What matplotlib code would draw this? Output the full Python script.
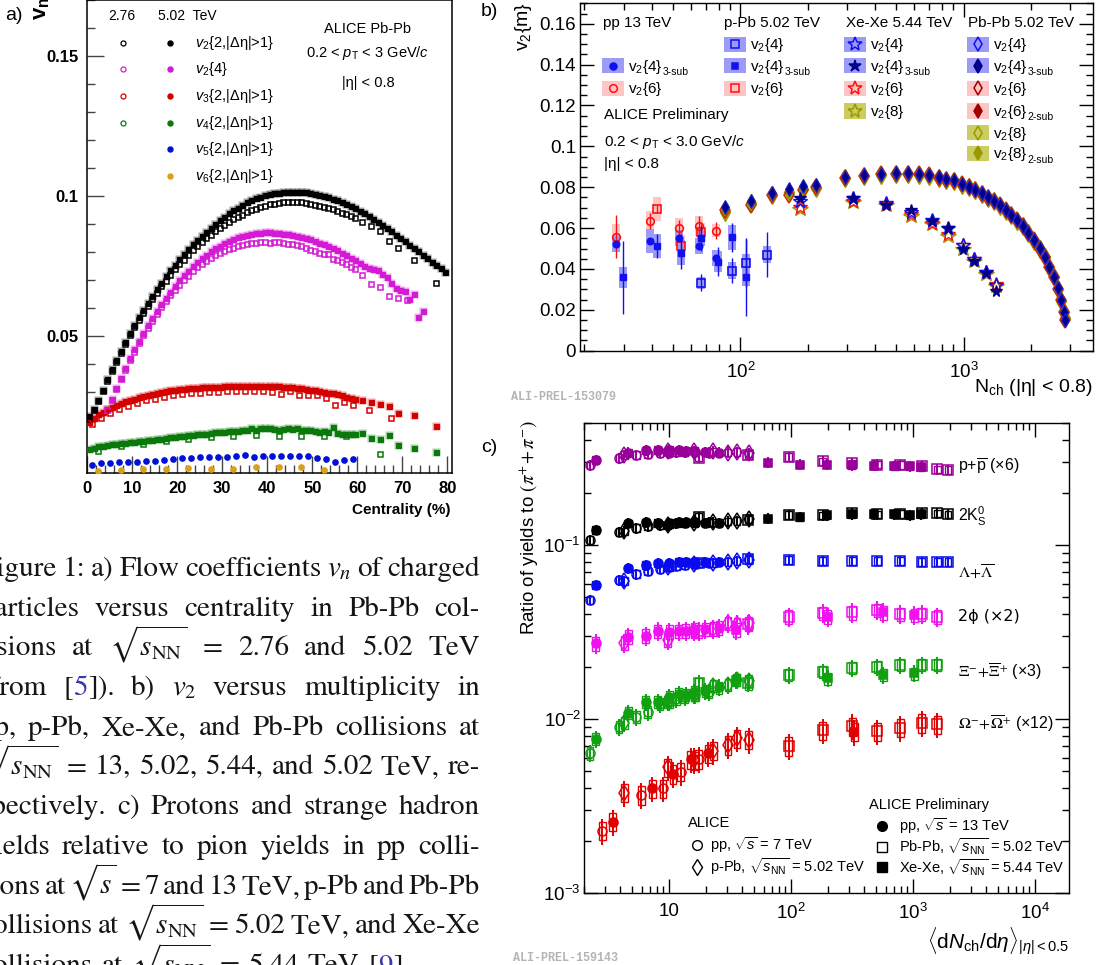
import numpy as np
import matplotlib
matplotlib.use("Agg")
import matplotlib.pyplot as plt
from matplotlib.patches import Rectangle
from matplotlib.lines import Line2D
from matplotlib.transforms import IdentityTransform
import matplotlib.ticker as mticker

plt.rcParams['font.family'] = ['Liberation Sans', 'DejaVu Sans']
plt.rcParams['mathtext.fontset'] = 'custom'
plt.rcParams['mathtext.rm'] = 'Liberation Sans'
plt.rcParams['mathtext.it'] = 'Liberation Sans:italic'
plt.rcParams['mathtext.bf'] = 'Liberation Sans:bold'
plt.rcParams['mathtext.sf'] = 'Liberation Sans'
plt.rcParams['axes.linewidth'] = 1.0

# ------------------------------------------------------------------ data a)
cent_502 = np.arange(0.5, 80, 1.0)
v22_502 = [0.0213, 0.0239, 0.0271, 0.0308, 0.0346, 0.0382, 0.0414, 0.0448, 0.0480, 0.0511,
           0.0540, 0.0568, 0.0593, 0.0618, 0.0644, 0.0668, 0.0690, 0.0713, 0.0735, 0.0755,
           0.0775, 0.0792, 0.0810, 0.0827, 0.0843, 0.0858, 0.0873, 0.0887, 0.0901, 0.0914,
           0.0926, 0.0938, 0.0949, 0.0959, 0.0968, 0.0977, 0.0985, 0.0992, 0.0998, 0.1003,
           0.1007, 0.1010, 0.1012, 0.1014, 0.1015, 0.1016, 0.1015, 0.1014, 0.1013, 0.1011,
           0.1008, 0.1004, 0.1000, 0.0995, 0.0990, 0.0985, 0.0979, 0.0972, 0.0965, 0.0957,
           0.0948, 0.0939, 0.0929, 0.0919, 0.0908, 0.0897, 0.0886, 0.0874, 0.0862, 0.0850,
           0.0838, 0.0826, 0.0814, 0.0802, 0.0790, 0.0778, 0.0766, 0.0754, 0.0742, 0.0730]
cent_276_v22 = list(np.arange(0.5, 60, 1.0)) + [61, 63, 65, 67, 69, 72.5, 77.5]
v22_276 = [0.0205, 0.0235, 0.0268, 0.0303, 0.0340, 0.0375, 0.0408, 0.0440, 0.0472, 0.0502,
           0.0531, 0.0558, 0.0584, 0.0608, 0.0632, 0.0655, 0.0677, 0.0698, 0.0718, 0.0738,
           0.0756, 0.0773, 0.0790, 0.0806, 0.0821, 0.0835, 0.0849, 0.0862, 0.0874, 0.0886,
           0.0897, 0.0907, 0.0917, 0.0926, 0.0934, 0.0942, 0.0949, 0.0955, 0.0961, 0.0966,
           0.0970, 0.0973, 0.0976, 0.0977, 0.0978, 0.0979, 0.0978, 0.0977, 0.0975, 0.0972,
           0.0969, 0.0966, 0.0962, 0.0958, 0.0953, 0.0947, 0.0941, 0.0935, 0.0928, 0.0920,
           0.0906, 0.0894, 0.0874, 0.0838, 0.0813, 0.0771, 0.0688]
cent_502_v24 = np.arange(4.5, 75, 1.0)
v24_502 = [0.0239, 0.0274, 0.0316, 0.0352, 0.0386, 0.0420, 0.0452, 0.0482, 0.0511, 0.0538,
           0.0565, 0.0590, 0.0614, 0.0637, 0.0659, 0.0679, 0.0699, 0.0717, 0.0734, 0.0750,
           0.0765, 0.0778, 0.0791, 0.0802, 0.0813, 0.0822, 0.0831, 0.0839, 0.0846, 0.0852,
           0.0857, 0.0861, 0.0864, 0.0867, 0.0869, 0.0870, 0.0870, 0.0869, 0.0868, 0.0866,
           0.0864, 0.0861, 0.0858, 0.0854, 0.0850, 0.0845, 0.0840, 0.0834, 0.0828, 0.0821,
           0.0814, 0.0806, 0.0798, 0.0789, 0.0780, 0.0770, 0.0760, 0.0750, 0.0742, 0.0740,
           0.0735, 0.0722, 0.0712, 0.0690, 0.0670, 0.0665, 0.0660, 0.0632, 0.0650, 0.0567,
           0.0590]
cent_276_v24 = list(np.arange(4.5, 60, 1.0)) + [61, 63, 65, 67, 69, 71]
v24_276 = [0.0235, 0.0270, 0.0310, 0.0346, 0.0380, 0.0413, 0.0444, 0.0474, 0.0502, 0.0529,
           0.0555, 0.0579, 0.0602, 0.0624, 0.0645, 0.0665, 0.0683, 0.0700, 0.0716, 0.0731,
           0.0745, 0.0757, 0.0768, 0.0779, 0.0788, 0.0796, 0.0804, 0.0810, 0.0816, 0.0821,
           0.0825, 0.0829, 0.0832, 0.0834, 0.0836, 0.0836, 0.0833, 0.0836, 0.0837, 0.0832,
           0.0827, 0.0829, 0.0825, 0.0822, 0.0813, 0.0809, 0.0805, 0.0796, 0.0794, 0.0793,
           0.0775, 0.0773, 0.0766, 0.0757, 0.0748, 0.0739,
           0.0719, 0.0686, 0.0674, 0.0644, 0.0636, 0.0630]
cent_502_v34 = list(np.arange(0.5, 60, 1.0)) + [61, 63, 65, 67, 69, 72.5, 77.5]
v3_502 = [0.0192, 0.0208, 0.0220, 0.0230, 0.0239, 0.0246, 0.0254, 0.0261, 0.0267, 0.0273,
          0.0277, 0.0282, 0.0287, 0.0290, 0.0294, 0.0298, 0.0301, 0.0304, 0.0306, 0.0308,
          0.0311, 0.0312, 0.0313, 0.0314, 0.0315, 0.0317, 0.0317, 0.0318, 0.0319, 0.0319,
          0.0320, 0.0320, 0.0321, 0.0321, 0.0322, 0.0322, 0.0322, 0.0322, 0.0322, 0.0321,
          0.0321, 0.0320, 0.0320, 0.0319, 0.0318, 0.0317, 0.0315, 0.0313, 0.0311, 0.0309,
          0.0307, 0.0304, 0.0301, 0.0298, 0.0295, 0.0292, 0.0288, 0.0284, 0.0280, 0.0276,
          0.0272, 0.0266, 0.0258, 0.0250, 0.0226, 0.0217, 0.0180]
cent_276_v3 = list(np.arange(1, 60, 2.0)) + [62.5, 67.5]
v3_276 = [0.0186, 0.0207, 0.0226, 0.0240, 0.0252, 0.0262, 0.0270, 0.0277, 0.0283, 0.0288,
          0.0292, 0.0295, 0.0298, 0.0300, 0.0302, 0.0303, 0.0303, 0.0304, 0.0304, 0.0303,
          0.0299, 0.0293, 0.0305, 0.0289, 0.0289, 0.0289, 0.0280, 0.0254, 0.0265, 0.0254,
          0.0237, 0.0206]
v4_502 = [0.0096, 0.0101, 0.0106, 0.0108, 0.0111, 0.0113, 0.0115, 0.0117, 0.0119, 0.0121,
          0.0123, 0.0125, 0.0126, 0.0129, 0.0130, 0.0132, 0.0133, 0.0136, 0.0138, 0.0140,
          0.0142, 0.0144, 0.0146, 0.0146, 0.0149, 0.0151, 0.0151, 0.0154, 0.0156, 0.0156,
          0.0158, 0.0160, 0.0161, 0.0161, 0.0164, 0.0165, 0.0170, 0.0165, 0.0170, 0.0173,
          0.0170, 0.0168, 0.0166, 0.0167, 0.0170, 0.0169, 0.0170, 0.0166, 0.0165, 0.0163,
          0.0162, 0.0158, 0.0160, 0.0157, 0.0174, 0.0154, 0.0152, 0.0150, 0.0150, 0.0151,
          0.0155, 0.0136, 0.0132, 0.0148, 0.0112, 0.0099, 0.0087]
cent_276_v4 = list(np.arange(2.5, 60, 5.0)) + [65]
v4_276 = [0.0090, 0.0108, 0.0114, 0.0126, 0.0132, 0.0138, 0.0144, 0.0146, 0.0144, 0.0142,
          0.0142, 0.0144, 0.0079]
cent_502_v5 = np.arange(1, 60, 2.0)
v5_502 = [0.0039, 0.0045, 0.0048, 0.0050, 0.0051, 0.0049, 0.0054, 0.0055, 0.0057, 0.0061,
          0.0063, 0.0065, 0.0068, 0.0069, 0.0069, 0.0068, 0.0071, 0.0075, 0.0067, 0.0073,
          0.0071, 0.0070, 0.0070, 0.0070, 0.0070, 0.0063, 0.0061, 0.0052, 0.0059, 0.0061]
cent_502_v6 = np.arange(2.5, 55, 5.0)
v6_502 = [0.0019, 0.0020, 0.0025, 0.0025, 0.0028, 0.0025, 0.0025, 0.0033, 0.0034, 0.0033, 0.0020]

# ------------------------------------------------------------------ data b)
N_pp = [27.8, 39.4, 53.3, 64.9, 77.4]
pp_v24_3sub = [0.0523, 0.0537, 0.0550, 0.0511, 0.0453]
pp_v24_3sub_sys = [0.004, 0.006, 0.004, 0.004, 0.004]
pp_v26 = [0.0558, 0.0635, 0.0598, 0.0611, 0.0588]
pp_v26_err = [0.0105, 0.004, 0.004, 0.005, 0.004]
pp_v26_sys = [0.006, 0.005, 0.005, 0.005, 0.003]

N_ppb_v24 = [66.7, 91.3, 106.2, 131.8]
ppb_v24 = [0.0333, 0.0392, 0.0431, 0.0470]
ppb_v24_err = [0.004, 0.006, 0.012, 0.011]
ppb_v24_sys = [0.003, 0.004, 0.004, 0.004]
N_ppb_3sub = [29.9, 42.1, 54.3, 66.7, 79.6, 91.3, 106.2]
ppb_v24_3sub = [0.0359, 0.0513, 0.0480, 0.0550, 0.0436, 0.0555, 0.0359]
ppb_v24_3sub_err = [0.018, 0.006, 0.008, 0.006, 0.007, 0.007, 0.019]
ppb_v24_3sub_sys = [0.005, 0.006, 0.006, 0.004, 0.005, 0.006, 0.004]
N_ppb_v26 = [42.1, 54.3, 66.7]
ppb_v26 = [0.0694, 0.0514, 0.0583]
ppb_v26_err = [0.002, 0.006, 0.004]
ppb_v26_sys = [0.006, 0.005, 0.004]

N_xe = [184, 320, 451, 583, 724, 854, 992, 1117, 1256, 1397]
xe_v24 = [0.0735, 0.0745, 0.0722, 0.0680, 0.0638, 0.0598, 0.0515, 0.0450, 0.0385, 0.0320]
xe_v24_3sub = [0.0745, 0.0748, 0.0715, 0.0690, 0.0635, 0.0598, 0.0500, 0.0440, 0.0378, 0.0290]
xe_v26 = [0.0705, 0.0735, 0.0718, 0.0667, 0.0625, 0.0570, 0.0515, 0.0450, 0.0385, 0.0325]
xe_v28 = [0.0695, 0.0728, 0.0712, 0.0660, 0.0618, 0.0562, 0.0500, 0.0438, 0.0375, 0.0315]

N_pb = [85.4, 111.7, 138, 165, 191, 218, 293, 359, 426, 498, 565, 631, 702, 774, 838, 906,
        981, 1052, 1125, 1203, 1291, 1369, 1452, 1541, 1634, 1734, 1840, 1951, 2070, 2196,
        2313, 2423, 2540, 2644, 2727, 2816, 2847]
pb_v24 = [0.0702, 0.0735, 0.0771, 0.0792, 0.0807, 0.0811, 0.0849, 0.0859, 0.0865, 0.0869,
          0.0869, 0.0865, 0.0860, 0.0849, 0.0839, 0.0833, 0.0816, 0.0803, 0.0787, 0.0771,
          0.0751, 0.0735, 0.0713, 0.0689, 0.0665, 0.0640, 0.0611, 0.0578, 0.0542, 0.0501,
          0.0460, 0.0411, 0.0362, 0.0306, 0.0248, 0.0191, 0.0150]
pb_v26 = [0.0688, 0.0712, 0.0760, 0.0762, 0.0786, 0.0800, 0.0845, 0.0857, 0.0863, 0.0867,
          0.0867, 0.0863, 0.0858, 0.0847, 0.0837, 0.0831, 0.0814, 0.0801, 0.0785, 0.0769,
          0.0749, 0.0733, 0.0711, 0.0687, 0.0663, 0.0638, 0.0609, 0.0576, 0.0540, 0.0499,
          0.0458, 0.0409, 0.0360, 0.0304, 0.0246, 0.0189, 0.0148]
pb_v28 = [0.0680, 0.0722, 0.0762, 0.0775, 0.0790, 0.0798, 0.0843, 0.0856, 0.0862, 0.0866,
          0.0866, 0.0862, 0.0857, 0.0846, 0.0836, 0.0830, 0.0813, 0.0800, 0.0784, 0.0768,
          0.0748, 0.0732, 0.0710, 0.0686, 0.0662, 0.0637, 0.0608, 0.0575, 0.0539, 0.0498,
          0.0457, 0.0408, 0.0359, 0.0303, 0.0245, 0.0188, 0.0160]

# ------------------------------------------------------------------ data c)
x_pp7 = [2.26, 3.90, 5.40, 6.72, 8.45, 10.1, 11.5, 13.5, 16.5, 21.3]
x_pp13 = [2.52, 4.64, 6.48, 8.07, 10.11, 12.06, 13.76, 16.12, 19.83, 25.75]
x_ppb = [4.3, 9.8, 16.1, 23.2, 30.5, 36.2, 45.1]
x_pbpb = [17.5, 44.9, 96.3, 183, 318, 512, 786, 1180, 1587, 1943]
x_pbpb_9 = [17.5, 44.9, 96.3, 183, 318, 512, 786, 1180, 1587]
x_pbpb_om = [96.3, 183, 318, 512, 786, 1180, 1587]
x_xexe_pk = [64.7, 118, 198, 315, 478, 706, 939, 1167]
x_xexe_4 = [35.6, 200, 573, 1024]
x_xexe_om = [330]
x_pp7_om = [2.85, 5.94, 8.95, 12.5, 17.5]
x_pp13_om = [3.47, 7.3, 10.8, 15.1, 21.1]

p_pp7 = [0.288, 0.316, 0.330, 0.335, 0.338, 0.340, 0.341, 0.341, 0.341, 0.340]
p_pp13 = [0.308, 0.340, 0.350, 0.352, 0.352, 0.350, 0.348, 0.346, 0.343, 0.340]
p_ppb = [0.330, 0.345, 0.347, 0.345, 0.340, 0.342, 0.336]
p_pbpb = [0.318, 0.330, 0.322, 0.303, 0.295, 0.290, 0.288, 0.283, 0.272, 0.270]
p_xexe = [0.298, 0.290, 0.290, 0.288, 0.286, 0.285, 0.284, 0.282]

k_pp7 = [0.107, 0.119, 0.125, 0.128, 0.130, 0.132, 0.133, 0.134, 0.135, 0.135]
k_pp13 = [0.122, 0.133, 0.135, 0.134, 0.134, 0.135, 0.135, 0.135, 0.134, 0.134]
k_ppb = [0.120, 0.130, 0.134, 0.135, 0.137, 0.138, 0.141]
k_pbpb = [0.145, 0.140, 0.149, 0.148, 0.152, 0.150, 0.151, 0.152, 0.152, 0.150]
k_xexe = [0.142, 0.145, 0.148, 0.150, 0.150, 0.150, 0.148, 0.150]

l_pp7 = [0.0483, 0.0629, 0.068, 0.071, 0.073, 0.075, 0.076, 0.077, 0.078, 0.079]
l_pp13 = [0.0589, 0.0735, 0.0767, 0.0785, 0.0785, 0.0802, 0.080, 0.080, 0.080, 0.080]
l_ppb = [0.062, 0.075, 0.078, 0.079, 0.080, 0.081, 0.082]
l_pbpb = [0.079, 0.083, 0.082, 0.081, 0.081, 0.081, 0.081, 0.080, 0.080, 0.080]

phi_pp13 = [0.0272, 0.0297, 0.0300, 0.0320, 0.0318, 0.0320, 0.0322, 0.0325, 0.0328, 0.0335]
phi_ppb = [0.0275, 0.0285, 0.0320, 0.0330, 0.0355, 0.0350, 0.0355]
phi_pbpb = [0.0320, 0.0350, 0.0387, 0.0405, 0.0410, 0.0423, 0.0400, 0.0400, 0.0387]
phi_xexe = [0.0325, 0.0387, 0.0410, 0.0396]

xi_pp7 = [0.00636, 0.00903, 0.0103, 0.0110, 0.0122, 0.0126, 0.0130, 0.0134, 0.0138, 0.0143]
xi_pp13 = [0.00767, 0.0108, 0.0126, 0.0126, 0.0134, 0.0140, 0.0138, 0.0143, 0.0145, 0.0152]
xi_ppb = [0.0095, 0.0125, 0.0138, 0.0155, 0.0157, 0.0168, 0.0166]
xi_pbpb = [0.0160, 0.0160, 0.0179, 0.0187, 0.0196, 0.0200, 0.0204, 0.0204, 0.0204]
xi_xexe = [0.0168, 0.0171, 0.0179, 0.0183]

om_pp7 = [0.00228, 0.00366, 0.0040, 0.00497, 0.0059]
om_pp13 = [0.00257, 0.0040, 0.00483, 0.00586, 0.00635]
om_ppb = [0.00377, 0.00527, 0.0058, 0.00657, 0.0071, 0.00775, 0.0076]
om_pbpb = [0.0070, 0.0086, 0.0091, 0.0085, 0.0089, 0.0095, 0.0093]
om_xexe = [0.00845]

# ------------------------------------------------------------------ figure helpers
W, H = 1096, 965
fig = plt.figure(figsize=(W / 100, H / 100), dpi=100)
fig.patch.set_facecolor('white')
renderer = fig.canvas.get_renderer()


def fx(x):
    return x / W


def fy(y):
    return 1 - y / H


def axes_px(l, t, r, b):
    return fig.add_axes([fx(l), fy(b), (r - l) / W, (b - t) / H])


def ftext(x, y, s, **kw):
    kw.setdefault('va', 'center')
    return fig.text(fx(x), fy(y), s, **kw)


def fmark(x, y, **kw):
    fig.add_artist(Line2D([fx(x)], [fy(y)], transform=fig.transFigure, ls='none', **kw))


def fbox(x0, y0, x1, y1, **kw):
    fig.add_artist(Rectangle((fx(x0), fy(y1)), (x1 - x0) / W, (y1 - y0) / H,
                             transform=fig.transFigure, **kw))


def text_sub(x, ybase, main, sub, fs):
    t = ftext(x, ybase, main, fontsize=fs, ha='left', va='baseline')
    w = t.get_window_extent(renderer).width
    if sub:
        ftext(x + w, ybase + 0.28 * fs * 1.389, sub, fontsize=fs * 0.68, ha='left', va='baseline')


# ------------------------------------------------------------------ panel a
axA = axes_px(87, 0, 452, 473)
axA.set_xlim(0, 81)
axA.set_ylim(0.0011, 0.170)
for sp in axA.spines.values():
    sp.set_linewidth(1.1)
axA.tick_params(which='both', direction='in', top=False, right=False, color='#444444', width=1.0)
axA.tick_params(which='major', length=12, pad=6)
axA.tick_params(which='minor', length=6)
axA.set_xticks(np.arange(0, 81, 10), [str(v) for v in range(0, 81, 10)], fontweight='bold', fontsize=12)
axA.set_yticks([0.05, 0.1, 0.15], ['0.05', '0.1', '0.15'], fontweight='bold', fontsize=12)
axA.xaxis.set_minor_locator(mticker.MultipleLocator(2))
axA.yaxis.set_minor_locator(mticker.MultipleLocator(0.01))

C_BLK, C_MAG, C_RED, C_GRN, C_BLU, C_GLD = 'black', '#d41ad4', '#d40000', '#0a780a', '#0010d8', '#d9a11a'


def apl(x, y, col, filled, marker='s', ms=3.6):
    if filled:
        axA.plot(x, y, ls='none', marker=marker, ms=ms + 1.6, mfc=col, mec='none', alpha=0.35, zorder=2)
        axA.plot(x, y, ls='none', marker=marker, ms=ms, mfc=col, mec=col, mew=0.8, zorder=3)
    else:
        axA.plot(x, y, ls='none', marker=marker, ms=ms, mfc='none', mec=col, mew=1.1, zorder=4)


apl(cent_502, v22_502, C_BLK, True)
apl(cent_276_v22, v22_276, C_BLK, False)
apl(cent_502_v24, v24_502, C_MAG, True)
apl(cent_276_v24, v24_276, C_MAG, False)
apl(cent_502_v34, v3_502, C_RED, True)
apl(cent_276_v3, v3_276, C_RED, False)
apl(cent_502_v34, v4_502, C_GRN, True)
apl(cent_276_v4, v4_276, C_GRN, False)
axA.plot(cent_502_v5, v5_502, ls='none', marker='o', ms=3.8, mfc=C_BLU, mec=C_BLU, zorder=3)
axA.plot(cent_502_v6, v6_502, ls='none', marker='o', ms=3.8, mfc=C_GLD, mec=C_GLD, zorder=3)

ftext(5, 15, 'a)', fontsize=14, ha='left')
ftext(41, 20, r'$\mathbf{v}_{\mathbf{n}}$', fontsize=16, rotation=90, ha='center', va='bottom')
ftext(450, 510, 'Centrality (%)', fontsize=11, fontweight='bold', ha='right')
ftext(122, 15.7, '2.76', fontsize=10, ha='center')
ftext(158, 15.7, '5.02  TeV', fontsize=10, ha='left')
leg_rows = [42.7, 69.3, 96, 122.7, 149.3, 176]
leg_cols = [C_BLK, C_MAG, C_RED, C_GRN, C_BLU, C_GLD]
leg_labels = [r'$v_{2}${2,|Δη|>1}', r'$v_{2}${4}', r'$v_{3}${2,|Δη|>1}', r'$v_{4}${2,|Δη|>1}',
              r'$v_{5}${2,|Δη|>1}', r'$v_{6}${2,|Δη|>1}']
for i, (yy, cc, lab) in enumerate(zip(leg_rows, leg_cols, leg_labels)):
    if i < 4:
        fmark(123, yy, marker='o', ms=3.6, mfc='none', mec=cc, mew=0.9)
    fmark(170, yy, marker='o', ms=3.6, mfc=cc, mec=cc)
    ftext(195, yy, lab, fontsize=10.5, ha='left')
ftext(368, 29, 'ALICE Pb-Pb', fontsize=10.5, ha='center')
ftext(368, 53, r'0.2 < $p_{\mathrm{T}}$ < 3 GeV/$c$', fontsize=10.5, ha='center')
ftext(368, 83, '|η| < 0.8', fontsize=10.5, ha='center')

# ------------------------------------------------------------------ panel b
axB = axes_px(579.5, 3.3, 1093, 350.7)
axB.set_xscale('log')
axB.set_xlim(19, 3800)
axB.set_ylim(0, 0.17)
axB.tick_params(which='both', direction='in', top=True, right=True, width=1.0)
axB.tick_params(which='major', length=10, labelsize=13.5)
axB.tick_params(axis='y', which='major', pad=2.5)
axB.tick_params(axis='x', which='major', pad=8)
axB.tick_params(which='minor', length=5)
axB.yaxis.set_major_locator(mticker.MultipleLocator(0.02))
axB.yaxis.set_minor_locator(mticker.MultipleLocator(0.005))
axB.yaxis.set_major_formatter(mticker.FuncFormatter(lambda v, p: '%g' % round(v, 4)))
axB.xaxis.set_major_locator(mticker.FixedLocator([100, 1000]))
axB.xaxis.set_major_formatter(mticker.FixedFormatter([r'$10^{2}$', r'$10^{3}$']))
axB.xaxis.set_minor_locator(mticker.LogLocator(base=10, subs=np.arange(2, 10)))
axB.xaxis.set_minor_formatter(mticker.NullFormatter())

B_BOX, P_BOX, O_BOX = '#9c9cf8', '#ffc4c4', '#cccc60'
B_MK, NAVY, R_MK, DR_MK, OL_MK = '#1010f0', '#00008a', '#ff1010', '#a00000', '#9a9a00'


def bsys(x, y, dy, col, hw=0.018):
    for xi, yi, di in zip(x, y, dy):
        axB.add_patch(Rectangle((xi * 10 ** -hw, yi - di), xi * (10 ** hw - 10 ** -hw), 2 * di,
                                facecolor=col, edgecolor='none', zorder=1))


bsys(N_pp, pp_v26, pp_v26_sys, P_BOX)
bsys(N_pp, pp_v24_3sub, pp_v24_3sub_sys, B_BOX)
bsys(N_ppb_v26, ppb_v26, ppb_v26_sys, P_BOX)
bsys(N_ppb_v24, ppb_v24, ppb_v24_sys, B_BOX)
bsys(N_ppb_3sub, ppb_v24_3sub, ppb_v24_3sub_sys, B_BOX)
axB.errorbar(N_pp, pp_v26, yerr=pp_v26_err, fmt='o', ms=5.5, mfc='none', mec=R_MK, mew=1.2,
             ecolor=R_MK, elinewidth=1.0, zorder=4)
axB.plot(N_pp, pp_v24_3sub, 'o', ms=4.8, color=B_MK, zorder=5)
axB.errorbar(N_ppb_v26, ppb_v26, yerr=ppb_v26_err, fmt='s', ms=5.5, mfc='none', mec=R_MK,
             mew=1.2, ecolor=R_MK, elinewidth=1.0, zorder=4)
axB.errorbar(N_ppb_v24, ppb_v24, yerr=ppb_v24_err, fmt='s', ms=5.5, mfc='none', mec=B_MK,
             mew=1.2, ecolor=B_MK, elinewidth=1.0, zorder=4)
axB.errorbar(N_ppb_3sub, ppb_v24_3sub, yerr=ppb_v24_3sub_err, fmt='s', ms=5, mfc=B_MK, mec=B_MK,
             ecolor=B_MK, elinewidth=1.0, zorder=5)
axB.plot(N_xe, xe_v28, '*', ms=11.5, mfc='none', mec=OL_MK, mew=1.0, zorder=3)
axB.plot(N_xe, xe_v26, '*', ms=10.5, mfc='none', mec=R_MK, mew=1.0, zorder=4)
axB.plot(N_xe, xe_v24, '*', ms=10.5, mfc='none', mec=B_MK, mew=1.0, zorder=4)
axB.plot(N_xe, xe_v24_3sub, '*', ms=8.5, mfc=NAVY, mec=NAVY, zorder=5)
axB.plot(N_pb, pb_v28, 'd', ms=9, mfc=OL_MK, mec=OL_MK, zorder=3)
axB.plot(N_pb, pb_v26, 'd', ms=8.5, mfc='none', mec='#c83000', mew=1.1, zorder=4)
axB.plot(N_pb, pb_v24, 'd', ms=7, mfc=NAVY, mec='#2020d0', mew=0.8, zorder=5)

ftext(481, 12, 'b)', fontsize=14, ha='left')
ftext(524, 2, r'v$_{2}${m}', fontsize=14, rotation=90, ha='center', va='top')
ftext(1093, 388, r'N$_{\mathrm{ch}}$ (|η| < 0.8)', fontsize=14, ha='right')
ftext(511, 397, 'ALI-PREL-153079', fontsize=8.5, ha='left', family='Liberation Mono',
      fontweight='bold', color='#b4b4b4')

fsB = 11
ftext(603, 23, 'pp 13 TeV', fontsize=fsB, ha='left')
ftext(723.5, 23, 'p-Pb 5.02 TeV', fontsize=fsB, ha='left')
ftext(845.8, 23, 'Xe-Xe 5.44 TeV', fontsize=fsB, ha='left')
ftext(968, 23, 'Pb-Pb 5.02 TeV', fontsize=fsB, ha='left')
rowsB = [44.3, 65.5, 88.3, 111, 132.7, 153.3]
legB = [
    (613.3, 1, 'o', B_MK, B_MK, B_BOX, '{4}', '3-sub', 5),
    (613.3, 2, 'o', 'none', R_MK, P_BOX, '{6}', '', 5.5),
    (735, 0, 's', 'none', B_MK, B_BOX, '{4}', '', 5.5),
    (735, 1, 's', B_MK, B_MK, B_BOX, '{4}', '3-sub', 5),
    (735, 2, 's', 'none', R_MK, P_BOX, '{6}', '', 5.5),
    (855.4, 0, '*', 'none', B_MK, B_BOX, '{4}', '', 10),
    (855.4, 1, '*', NAVY, NAVY, B_BOX, '{4}', '3-sub', 9),
    (855.4, 2, '*', 'none', R_MK, P_BOX, '{6}', '', 10),
    (855.4, 3, '*', 'none', OL_MK, O_BOX, '{8}', '', 10),
    (978, 0, 'd', 'none', B_MK, B_BOX, '{4}', '', 7),
    (978, 1, 'd', NAVY, NAVY, B_BOX, '{4}', '3-sub', 7),
    (978, 2, 'd', 'none', DR_MK, P_BOX, '{6}', '', 7),
    (978, 3, 'd', DR_MK, DR_MK, P_BOX, '{6}', '2-sub', 7),
    (978, 4, 'd', 'none', OL_MK, O_BOX, '{8}', '', 7),
    (978, 5, 'd', OL_MK, OL_MK, O_BOX, '{8}', '2-sub', 7),
]
for cx, r, mk, mfc, mec, bc, lab, sub, msz in legB:
    yy = rowsB[r]
    fbox(cx - 11, yy - 7.5, cx + 11, yy + 7.5, facecolor=bc, edgecolor='none')
    fmark(cx, yy, marker=mk, ms=msz, mfc=mfc, mec=mec, mew=1.1)
    text_sub(cx + 15, yy + 5, r'v$_{2}$' + lab, sub, fsB)
ftext(604, 115, 'ALICE Preliminary', fontsize=fsB, ha='left')
ftext(604, 141.7, r'0.2 < $p_{\mathrm{T}}$ < 3.0 GeV/$c$', fontsize=fsB, ha='left')
ftext(604, 164, '|η| < 0.8', fontsize=fsB, ha='left')

# ------------------------------------------------------------------ panel c
axC = axes_px(583.6, 423.4, 1068.9, 893)
axC.set_xscale('log')
axC.set_yscale('log')
axC.set_xlim(2, 1.9e4)
axC.set_ylim(1e-3, 0.5)
axC.tick_params(which='both', direction='in', top=True, right=True, width=1.0)
axC.tick_params(which='major', length=10, labelsize=13.5)
axC.tick_params(which='minor', length=5)
axC.tick_params(axis='y', which='major', pad=2)
axC.tick_params(axis='x', which='major', pad=7)
axC.xaxis.set_major_locator(mticker.FixedLocator([10, 100, 1000, 10000]))
axC.xaxis.set_major_formatter(mticker.FixedFormatter(['10', r'$10^{2}$', r'$10^{3}$', r'$10^{4}$']))
axC.yaxis.set_major_locator(mticker.FixedLocator([1e-3, 1e-2, 1e-1]))
axC.yaxis.set_major_formatter(mticker.FixedFormatter([r'$10^{-3}$', r'$10^{-2}$', r'$10^{-1}$']))
for axis in (axC.xaxis, axC.yaxis):
    axis.set_minor_locator(mticker.LogLocator(base=10, subs=np.arange(2, 10), numticks=20))
    axis.set_minor_formatter(mticker.NullFormatter())

STY = {'pp7': ('o', False, 6.5), 'pp13': ('o', True, 6.5), 'ppb': ('d', False, 8),
       'pbpb': ('s', False, 7), 'xexe': ('s', True, 6)}
c_species = [
    ('#990099', 0.05, [('pbpb', x_pbpb, p_pbpb), ('ppb', x_ppb, p_ppb), ('pp7', x_pp7, p_pp7),
                       ('pp13', x_pp13, p_pp13), ('xexe', x_xexe_pk, p_xexe)]),
    ('black', 0.05, [('pbpb', x_pbpb, k_pbpb), ('ppb', x_ppb, k_ppb), ('pp7', x_pp7, k_pp7),
                     ('pp13', x_pp13, k_pp13), ('xexe', x_xexe_pk, k_xexe)]),
    ('#0a0af0', 0.05, [('pbpb', x_pbpb, l_pbpb), ('ppb', x_ppb, l_ppb), ('pp7', x_pp7, l_pp7),
                       ('pp13', x_pp13, l_pp13)]),
    ('#f010f0', 0.09, [('pbpb', x_pbpb_9, phi_pbpb), ('ppb', x_ppb, phi_ppb),
                       ('pp13', x_pp13, phi_pp13), ('xexe', x_xexe_4, phi_xexe)]),
    ('#10a010', 0.08, [('pbpb', x_pbpb_9, xi_pbpb), ('ppb', x_ppb, xi_ppb), ('pp7', x_pp7, xi_pp7),
                       ('pp13', x_pp13, xi_pp13), ('xexe', x_xexe_4, xi_xexe)]),
    ('#e00000', 0.12, [('pbpb', x_pbpb_om, om_pbpb), ('ppb', x_ppb, om_ppb), ('pp7', x_pp7_om, om_pp7),
                       ('pp13', x_pp13_om, om_pp13), ('xexe', x_xexe_om, om_xexe)]),
]
BW = 10 ** 0.028
for col, frac, groups in c_species:
    for sysname, xs, ys in groups:
        mk, filled, msz = STY[sysname]
        xs = np.asarray(xs, float)
        ys = np.asarray(ys, float)
        for xi, yi in zip(xs, ys):
            axC.add_patch(Rectangle((xi / BW, yi * (1 - frac)), xi * (BW - 1 / BW), yi * 2 * frac,
                                    fill=False, edgecolor=col, lw=1.0, zorder=2))
        axC.errorbar(xs, ys, yerr=ys * frac * 1.4, fmt='none', ecolor=col, elinewidth=1.4, zorder=3)
        axC.plot(xs, ys, ls='none', marker=mk, ms=msz, mfc=col if filled else 'none', mec=col,
                 mew=1.1, zorder=4)

ftext(481, 447, 'c)', fontsize=14, ha='left')
ftext(529, 420, r'Ratio of yields to $(\pi^{+}\!+\pi^{-})$', fontsize=13.5, rotation=90,
      ha='center', va='top', math_fontfamily='stix')
ftext(1069, 941, r'$\langle\mathrm{d}N_{\mathrm{ch}}/\mathrm{d}\eta\rangle_{|\eta|< 0.5}$',
      fontsize=15, ha='right')
ftext(513, 958, 'ALI-PREL-159143', fontsize=8.5, ha='left', family='Liberation Mono',
      fontweight='bold', color='#b4b4b4')
fsC = 11.5
ftext(958, 466.7, r'p+$\overline{\mathrm{p}}$ (×6)', fontsize=fsC, ha='left')
ftext(958, 516.7, r'2K$^{0}_{\mathrm{S}}$', fontsize=fsC, ha='left')
ftext(958, 571.7, r'$\Lambda\!+\!\overline{\Lambda}$', fontsize=fsC, ha='left', math_fontfamily='stix')
ftext(958, 616.7, '2ϕ (×2)', fontsize=fsC, ha='left', family=['DejaVu Sans'])
ftext(958, 671.7, r'$\Xi^{-}\!+\!\overline{\Xi}^{+}$ (×3)', fontsize=fsC, ha='left', math_fontfamily='stix')
ftext(958, 723.3, r'$\Omega^{-}\!+\!\overline{\Omega}^{+}$ (×12)', fontsize=fsC, ha='left',
      math_fontfamily='stix')
fsL = 10.5
ftext(687.5, 823.3, 'ALICE', fontsize=fsL, ha='left')
fmark(697.4, 845, marker='o', ms=7, mfc='none', mec='black', mew=1.0)
ftext(710, 845, r'pp, $\sqrt{s}$ = 7 TeV', fontsize=fsL, ha='left')
fmark(697.4, 866.7, marker='d', ms=8, mfc='none', mec='black', mew=1.0)
ftext(710, 866.7, r'p-Pb, $\sqrt{s_{\mathrm{NN}}}$ = 5.02 TeV', fontsize=fsL, ha='left')
ftext(869.3, 805, 'ALICE Preliminary', fontsize=fsL, ha='left')
fmark(882.4, 826, marker='o', ms=7, mfc='black', mec='black')
ftext(899, 826, r'pp, $\sqrt{s}$ = 13 TeV', fontsize=fsL, ha='left')
fmark(882.4, 846.7, marker='s', ms=7, mfc='none', mec='black', mew=1.0)
ftext(899, 846.7, r'Pb-Pb, $\sqrt{s_{\mathrm{NN}}}$ = 5.02 TeV', fontsize=fsL, ha='left')
fmark(882.4, 867.3, marker='s', ms=7, mfc='black', mec='black')
ftext(899, 867.3, r'Xe-Xe, $\sqrt{s_{\mathrm{NN}}}$ = 5.44 TeV', fontsize=fsL, ha='left')

# ------------------------------------------------------------------ caption (justified)
KC, BLC = '#151515', '#3a3aa8'
caption_lines = [
    ['Figure', '1:', 'a)', 'Flow', 'coefficients', r'$v_n$', 'of', 'charged'],
    ['particles', 'versus', 'centrality', 'in', 'Pb-Pb', 'col-'],
    ['lisions', 'at', r'$\sqrt{s_{\mathrm{NN}}}$', '=', '2.76', 'and', '5.02', 'TeV'],
    ['(from', [('[', KC), ('5', BLC), (']).', KC)], 'b)', r'$v_2$', 'versus', 'multiplicity', 'in'],
    ['pp,', 'p-Pb,', 'Xe-Xe,', 'and', 'Pb-Pb', 'collisions', 'at'],
    [r'$\sqrt{s_{\mathrm{NN}}}$', '=', '13,', '5.02,', '5.44,', 'and', '5.02', 'TeV,', 're-'],
    ['spectively.', 'c)', 'Protons', 'and', 'strange', 'hadron'],
    ['yields', 'relative', 'to', 'pion', 'yields', 'in', 'pp', 'colli-'],
    ['sions', 'at', r'$\sqrt{s}$', '=', '7', 'and', '13', 'TeV,', 'p-Pb', 'and', 'Pb-Pb'],
    ['collisions', 'at', r'$\sqrt{s_{\mathrm{NN}}}$', '=', '5.02', 'TeV,', 'and', 'Xe-Xe'],
    ['collisions', 'at', r'$\sqrt{s_{\mathrm{NN}}}$', '=', '5.44', 'TeV', [('[', KC), ('9', BLC), (']', KC)]],
]
cap_fs = 21
L_px, R_px = -19.5, 480
base0, dline = 576, 39.7
for i, words in enumerate(caption_lines):
    yb = H - (base0 + i * dline)
    items = []
    for w in words:
        segs = w if isinstance(w, list) else [(w, KC)]
        ts = []
        for s, c in segs:
            t = fig.text(0, 0, s, fontsize=cap_fs, family='STIXGeneral', math_fontfamily='stix',
                         color=c, transform=IdentityTransform(), ha='left', va='baseline')
            ts.append((t, t.get_window_extent(renderer).width))
        items.append(ts)
    widths = [sum(wd for _, wd in ts) for ts in items]
    if i < len(caption_lines) - 1:
        gap = (R_px - L_px - sum(widths)) / (len(items) - 1)
    else:
        gap = 9
    x = L_px
    for ts, wsum in zip(items, widths):
        xx = x
        for t, wd in ts:
            t.set_position((xx, yb))
            xx += wd
        x += wsum + gap

fig.savefig('out.png', dpi=100)
